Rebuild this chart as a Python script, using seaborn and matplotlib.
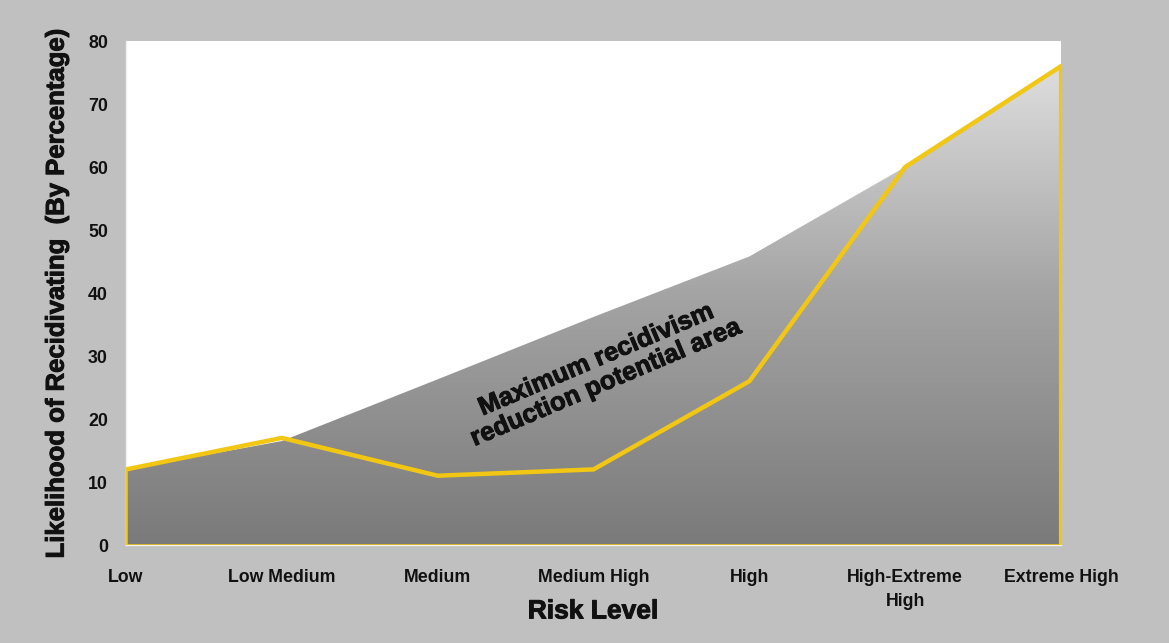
import numpy as np
import pandas as pd
import matplotlib
matplotlib.use('Agg')
import matplotlib.pyplot as plt
import matplotlib.patheffects as pe
from matplotlib.colors import LinearSegmentedColormap
import seaborn as sns

# risk categories and series values
risk_levels = ['Low', 'Low Medium', 'Medium', 'Medium High', 'High',
               'High-Extreme\nHigh', 'Extreme High']
max_potential = [12, 16.5, 26.3, 36.2, 45.8, 60, 76]
observed = [12, 17, 11, 12, 26, 60, 76]
y_ticks = [0, 10, 20, 30, 40, 50, 60, 70, 80]

BG = '#c0c0c0'
YELLOW = '#f2c713'
INK = '#111111'
heavy = [pe.withStroke(linewidth=0.7, foreground=INK)]

sns.set_theme(style='white')
plt.rcParams['font.family'] = ['Liberation Sans', 'DejaVu Sans']

df = pd.DataFrame({'pos': np.arange(len(risk_levels)),
                   'level': risk_levels,
                   'max_potential': max_potential,
                   'observed': observed})

fig = plt.figure(figsize=(11.69, 6.43), dpi=100, facecolor=BG)
ax = fig.add_axes([0.1078, 0.1524, 0.7998, 0.7838])
ax.set_facecolor('white')

# gray gradient area clipped to the max-potential polygon
area = ax.fill_between(df['pos'], 0, df['max_potential'], color='none', lw=0)
cmap = LinearSegmentedColormap.from_list('grays', ['#7a7a7a', '#a4a4a4', '#e4e4e4'])
grad = np.linspace(0, 1, 256).reshape(-1, 1)
img = ax.imshow(grad, cmap=cmap, origin='lower', aspect='auto',
                extent=[0, 6, 0, 80], zorder=1)
img.set_clip_path(area.get_paths()[0], transform=ax.transData)

# yellow outline of the observed series
sns.lineplot(data=df, x='pos', y='observed', color=YELLOW, lw=3.2,
             ax=ax, zorder=3, solid_joinstyle='miter')
ax.plot([0, 0, 6], [observed[0], 0, 0], color=YELLOW, lw=1.8, zorder=3)
ax.plot([6, 6], [0, observed[-1]], color=YELLOW, lw=3, zorder=3)

ax.text(3.05, 27.6, 'Maximum recidivism\nreduction potential area',
        rotation=23, ha='center', va='center', fontsize=18.5,
        fontweight='bold', color=INK, linespacing=1.05, zorder=4,
        path_effects=heavy)

ax.set_xlim(0, 6)
ax.set_ylim(0, 80)
ax.set_xticks(df['pos'])
ax.set_xticklabels(risk_levels, fontsize=12.8, fontweight='bold', color=INK,
                   linespacing=1.55)
ax.set_yticks(y_ticks)
ax.set_yticklabels([str(t) for t in y_ticks], fontsize=12.8,
                   fontweight='bold', color=INK)
ax.tick_params(axis='both', which='both', direction='out', length=5,
               width=1, color='#f0f0f0', pad=8)
ax.tick_params(axis='x', pad=12)

for side in ['top', 'right']:
    ax.spines[side].set_visible(False)
for side in ['left', 'bottom']:
    ax.spines[side].set_color('#f0f0f0')
    ax.spines[side].set_linewidth(1)

ax.set_xlabel('Risk Level', fontsize=19, fontweight='bold', color=INK,
              path_effects=heavy)
ax.xaxis.set_label_coords(0.4995, -0.108)
ax.set_ylabel('Likelihood of Recidivating  (By Percentage)', fontsize=18.5,
              fontweight='bold', color=INK, labelpad=14, path_effects=heavy)

fig.savefig('out.png', dpi=100, facecolor=BG)
